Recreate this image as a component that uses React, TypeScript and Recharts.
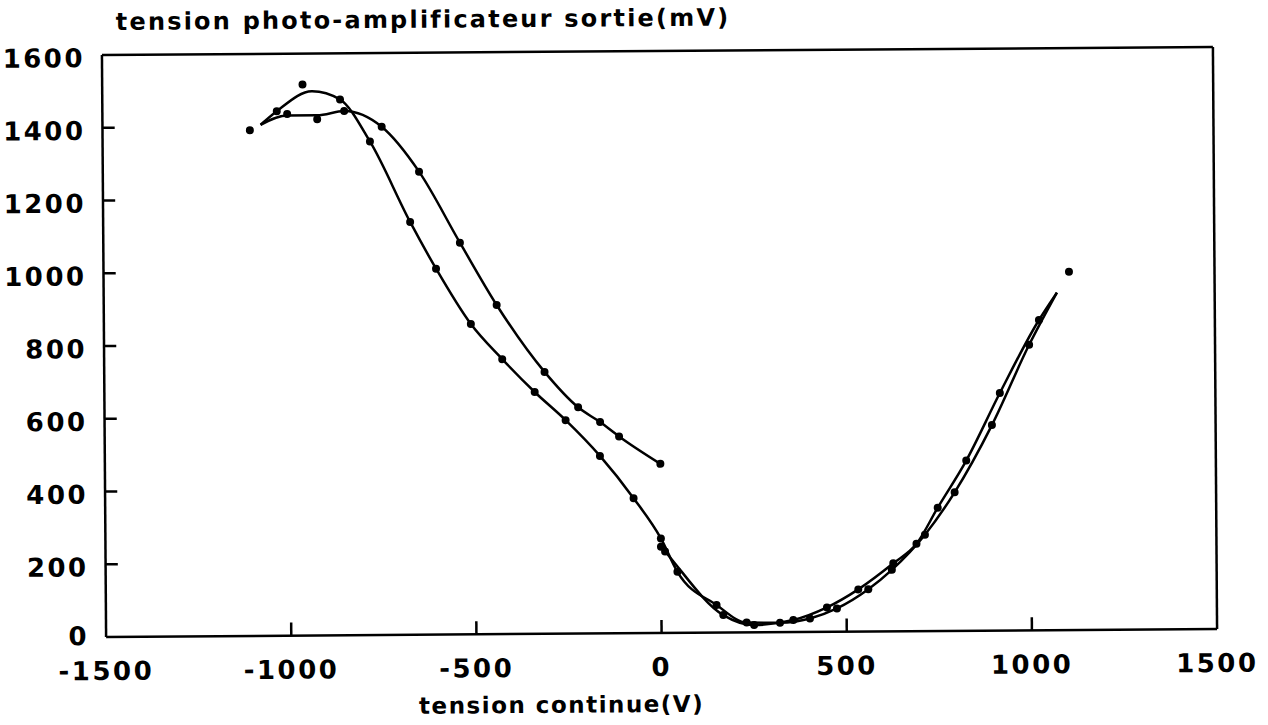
import React from "react";
import {
  ComposedChart,
  Line,
  Scatter,
  XAxis,
  YAxis,
  ReferenceLine,
} from "recharts";

// ticks
const xTicks = [-1500, -1000, -500, 0, 500, 1000, 1500];
const yTicks = [0, 200, 400, 600, 800, 1000, 1200, 1400, 1600];

// courbe tracée : montée en arc puis branche raide, puis le creux en V
const courbeA = [
  { x: -1073, v: 1405 }, { x: -1029, v: 1442 }, { x: -934, v: 1496 },
  { x: -858, v: 1473 }, { x: -778, v: 1357 }, { x: -671, v: 1135 },
  { x: -602, v: 1006 }, { x: -509, v: 853 }, { x: -425, v: 756 },
  { x: -338, v: 665 }, { x: -255, v: 587 }, { x: -163, v: 488 },
  { x: -73, v: 371 }, { x: 0, v: 260 }, { x: 44, v: 168 },
  { x: 149, v: 76 }, { x: 230, v: 27 }, { x: 320, v: 26 },
  { x: 401, v: 37 }, { x: 474, v: 64 }, { x: 559, v: 116 },
  { x: 623, v: 169 }, { x: 713, v: 265 }, { x: 794, v: 381 },
  { x: 896, v: 565 }, { x: 998, v: 785 }, { x: 1074, v: 928 },
];

// branche plate puis douce, jusqu'à 0 V
const courbeB = [
  { x: -1073, v: 1405 }, { x: -1001, v: 1430 }, { x: -920, v: 1430 },
  { x: -847, v: 1441 }, { x: -746, v: 1397 }, { x: -646, v: 1273 },
  { x: -537, v: 1077 }, { x: -439, v: 905 }, { x: -311, v: 720 },
  { x: -221, v: 622 }, { x: -162, v: 581 }, { x: -111, v: 541 },
  { x: 0, v: 465 },
];

// second creux en V (retour)
const courbeC = [
  { x: 0, v: 237 }, { x: 11, v: 224 }, { x: 167, v: 48 },
  { x: 250, v: 20 }, { x: 356, v: 33 }, { x: 447, v: 67 },
  { x: 532, v: 116 }, { x: 627, v: 187 }, { x: 690, v: 240 },
  { x: 748, v: 339 }, { x: 826, v: 468 }, { x: 918, v: 653 },
  { x: 1025, v: 853 }, { x: 1074, v: 928 },
];

// points mesurés
const mesures = [
  { x: -1102, v: 1390 }, { x: -1029, v: 1442 }, { x: -1001, v: 1434 },
  { x: -959, v: 1515 }, { x: -920, v: 1419 }, { x: -858, v: 1473 },
  { x: -847, v: 1441 }, { x: -778, v: 1357 }, { x: -746, v: 1397 },
  { x: -671, v: 1135 }, { x: -646, v: 1273 }, { x: -602, v: 1006 },
  { x: -537, v: 1077 }, { x: -509, v: 853 }, { x: -439, v: 905 },
  { x: -425, v: 756 }, { x: -338, v: 665 }, { x: -311, v: 720 },
  { x: -255, v: 587 }, { x: -221, v: 622 }, { x: -163, v: 488 },
  { x: -162, v: 581 }, { x: -111, v: 541 }, { x: -73, v: 371 },
  { x: 0, v: 465 }, { x: 0, v: 260 }, { x: 0, v: 237 },
  { x: 11, v: 224 }, { x: 44, v: 168 }, { x: 149, v: 76 },
  { x: 167, v: 48 }, { x: 230, v: 27 }, { x: 250, v: 20 },
  { x: 320, v: 26 }, { x: 356, v: 33 }, { x: 401, v: 37 },
  { x: 447, v: 67 }, { x: 474, v: 64 }, { x: 532, v: 116 },
  { x: 559, v: 116 }, { x: 623, v: 169 }, { x: 627, v: 187 },
  { x: 690, v: 240 }, { x: 713, v: 265 }, { x: 748, v: 339 },
  { x: 794, v: 381 }, { x: 826, v: 468 }, { x: 896, v: 565 },
  { x: 918, v: 653 }, { x: 998, v: 785 }, { x: 1025, v: 853 },
  { x: 1107, v: 985 },
];

// inward tick marks length, in axis units
const X_TICK_LEN = 36; // mV
const Y_TICK_LEN = 33; // V

const font = {
  fontFamily: "'DejaVu Sans', sans-serif",
  fontWeight: 700,
  fontSize: 26,
  letterSpacing: 2.5,
  fill: "#000",
};

const XTick = (props: any) => {
  const { x, y, payload } = props;
  return (
    <text x={x} y={y + 34} textAnchor="middle" dominantBaseline="central" style={font}>
      {payload.value}
    </text>
  );
};

const YTick = (props: any) => {
  const { x, y, payload } = props;
  const v = payload.value;
  return (
    <text x={x - 17} y={v === 0 ? y - 1 : y + 3} textAnchor="end" dominantBaseline="central" style={font}>
      {v}
    </text>
  );
};

const Dot = (props: any) => <circle cx={props.cx} cy={props.cy} r={4} fill="#000" />;

const textStyle: React.CSSProperties = {
  position: "absolute",
  fontFamily: "'DejaVu Sans', sans-serif",
  fontWeight: 700,
  whiteSpace: "nowrap",
  lineHeight: "28px",
};

export default function App() {
  return (
    <div
      style={{
        position: "absolute",
        left: 0,
        top: 0,
        width: 1268,
        height: 725,
        background: "#fff",
        transform: "rotate(-0.41deg)",
        transformOrigin: "659.5px 341.75px",
      }}
    >
      <div style={{ ...textStyle, left: 118, top: 4, fontSize: 24, letterSpacing: 2.2 }}>
        tension photo-amplificateur sortie(mV)
      </div>
      <div
        style={{
          ...textStyle,
          left: 0,
          width: 1118,
          top: 690,
          textAlign: "center",
          fontSize: 23,
          letterSpacing: 1.5,
        }}
      >
        tension continue(V)
      </div>
      <ComposedChart
        width={1268}
        height={725}
        margin={{ top: 51, right: 53, left: 0, bottom: 0 }}
      >
        <XAxis
          type="number"
          dataKey="x"
          domain={[-1500, 1500]}
          ticks={xTicks}
          allowDataOverflow
          tickSize={0}
          tickMargin={0}
          tickLine={false}
          tick={<XTick />}
          axisLine={{ stroke: "#000", strokeWidth: 2.5 }}
          height={92}
        />
        <YAxis
          type="number"
          dataKey="v"
          domain={[0, 1600]}
          ticks={yTicks}
          allowDataOverflow
          tickSize={0}
          tickMargin={0}
          tickLine={false}
          tick={<YTick />}
          axisLine={{ stroke: "#000", strokeWidth: 2.5 }}
          width={104}
        />
        <ReferenceLine y={1600} stroke="#000" strokeWidth={2.5} />
        <ReferenceLine x={1500} stroke="#000" strokeWidth={2.5} />
        {xTicks.slice(1, -1).map((t) => (
          <ReferenceLine
            key={"xt" + t}
            segment={[{ x: t, y: 0 }, { x: t, y: X_TICK_LEN }]}
            stroke="#000"
            strokeWidth={2.5}
          />
        ))}
        {yTicks.slice(1, -1).map((t) => (
          <ReferenceLine
            key={"yt" + t}
            segment={[{ x: -1500, y: t }, { x: -1500 + Y_TICK_LEN, y: t }]}
            stroke="#000"
            strokeWidth={2.5}
          />
        ))}
        <Line data={courbeA} dataKey="v" type="monotone" stroke="#000" strokeWidth={2.5} dot={false} isAnimationActive={false} />
        <Line data={courbeB} dataKey="v" type="monotone" stroke="#000" strokeWidth={2.5} dot={false} isAnimationActive={false} />
        <Line data={courbeC} dataKey="v" type="monotone" stroke="#000" strokeWidth={2.5} dot={false} isAnimationActive={false} />
        <Scatter data={mesures} dataKey="v" shape={<Dot />} isAnimationActive={false} />
      </ComposedChart>
    </div>
  );
}
